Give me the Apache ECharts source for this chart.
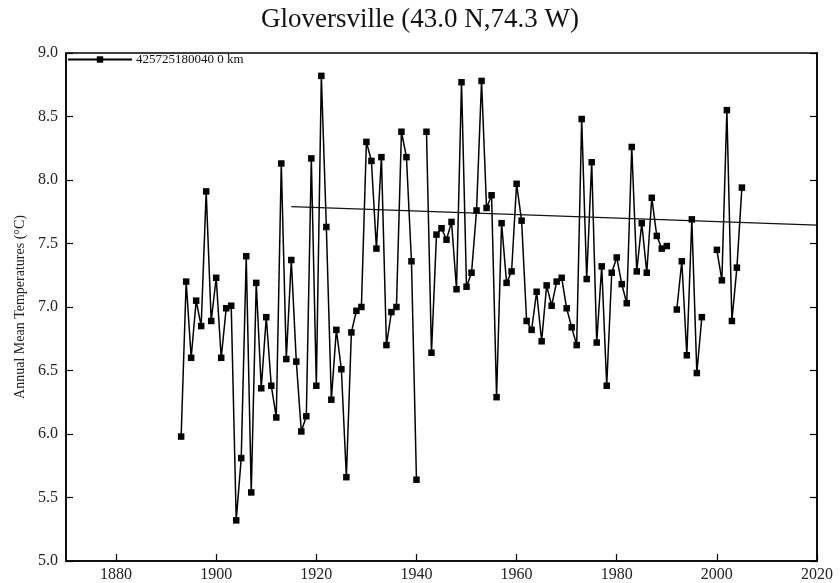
<!DOCTYPE html>
<html>
<head>
<meta charset="utf-8">
<script src="https://cdn.jsdelivr.net/npm/echarts@6/dist/echarts.min.js"></script>
<style>
html,body{margin:0;padding:0;background:#fff;}
#chart{width:840px;height:583px;}
</style>
</head>
<body>
<div id="chart"></div>
<script>
// ---- data ----
var chartTitle = 'Gloversville (43.0 N,74.3 W)';
var seriesName = '425725180040 0 km';
var yAxisName = 'Annual Mean Temperatures (\u00B0C)';
var firstYear = 1893;
var temps = [
  5.98, 7.20, 6.60, 7.05, 6.85, 7.91, 6.89,            // 1893-1899
  7.23, 6.60, 6.99, 7.01, 5.32, 5.81, 7.40, 5.54, 7.19, 6.36, // 1900-1909
  6.92, 6.38, 6.13, 8.13, 6.59, 7.37, 6.57, 6.02, 6.14, 8.17, // 1910-1919
  6.38, 8.82, 7.63, 6.27, 6.82, 6.51, 5.66, 6.80, 6.97, 7.00, // 1920-1929
  8.30, 8.15, 7.46, 8.18, 6.70, 6.96, 7.00, 8.38, 8.18, 7.36, // 1930-1939
  5.64, null, 8.38, 6.64, 7.57, 7.62, 7.53, 7.67, 7.14, 8.77, // 1940-1949
  7.16, 7.27, 7.76, 8.78, 7.78, 7.88, 6.29, 7.66, 7.19, 7.28, // 1950-1959
  7.97, 7.68, 6.89, 6.82, 7.12, 6.73, 7.17, 7.01, 7.20, 7.23, // 1960-1969
  6.99, 6.84, 6.70, 8.48, 7.22, 8.14, 6.72, 7.32, 6.38, 7.27, // 1970-1979
  7.39, 7.18, 7.03, 8.26, 7.28, 7.66, 7.27, 7.86, 7.56, 7.46, // 1980-1989
  7.48, null, 6.98, 7.36, 6.62, 7.69, 6.48, 6.92, null, null, // 1990-1999
  7.45, 7.21, 8.55, 6.89, 7.31, 7.94                          // 2000-2005
];
var trendYears = [1915, 2020];
var trendValues = [7.79, 7.645];
var xTickValues = [1880, 1900, 1920, 1940, 1960, 1980, 2000, 2020];
var xMin = 1870, xMax = 2020;
var yMin = 5.0, yMax = 9.0, yStep = 0.5;

// ---- build series ----
var stationData = temps.map(function (v, i) { return [firstYear + i, v]; });
var trendData = trendYears.map(function (y, i) { return [y, trendValues[i]]; });

var serif = 'Liberation Serif';
var chart = echarts.init(document.getElementById('chart'), null, {renderer: 'canvas'});
chart.setOption({
  backgroundColor: '#fff',
  animation: false,
  title: {
    text: chartTitle,
    left: 'center',
    top: 1,
    textStyle: {fontFamily: serif, fontSize: 27, fontWeight: 'normal', color: '#111'}
  },
  legend: {
    data: [seriesName],
    left: 62,
    top: 48,
    itemWidth: 64,
    itemHeight: 8,
    itemGap: 4,
    textStyle: {fontFamily: serif, fontSize: 13, color: '#111', padding: [0, 0, 0, -1]}
  },
  grid: {left: 66, right: 23, top: 53, bottom: 21, show: true, borderColor: '#000', borderWidth: 1.5, backgroundColor: 'transparent'},
  xAxis: [{
    type: 'value', min: xMin, max: xMax,
    axisLine: {show: true, onZero: false, lineStyle: {color: '#000', width: 1.5}},
    axisTick: {show: true, inside: true, length: 7, customValues: xTickValues, lineStyle: {color: '#000', width: 1.2}},
    axisLabel: {customValues: xTickValues, margin: 6, fontFamily: serif, fontSize: 16, color: '#222',
      formatter: function (v) { return String(Math.round(v)); }},
    splitLine: {show: false}
  }],
  yAxis: [{
    type: 'value', min: yMin, max: yMax, interval: yStep,
    name: yAxisName, nameLocation: 'middle', nameGap: 39, nameRotate: 90,
    nameTextStyle: {fontFamily: serif, fontSize: 14, color: '#222'},
    axisLine: {show: true, onZero: false, lineStyle: {color: '#000', width: 1.5}},
    axisTick: {show: true, inside: true, length: 7, lineStyle: {color: '#000', width: 1.2}},
    axisLabel: {margin: 8, fontFamily: serif, fontSize: 16, color: '#222', formatter: function (v) { return v.toFixed(1); }},
    splitLine: {show: false}
  }, {
    type: 'value', min: yMin, max: yMax, interval: yStep, position: 'right',
    axisLine: {show: true, onZero: false, lineStyle: {color: '#000', width: 1.5}},
    axisTick: {show: true, inside: true, length: 7, lineStyle: {color: '#000', width: 1.2}},
    axisLabel: {show: false},
    splitLine: {show: false}
  }],
  series: [{
    name: seriesName,
    type: 'line',
    data: stationData,
    connectNulls: false,
    symbol: 'rect',
    symbolSize: 6.5,
    showAllSymbol: true,
    itemStyle: {color: '#000'},
    lineStyle: {color: '#000', width: 1.5},
    z: 3
  }, {
    name: 'trend',
    type: 'line',
    data: trendData,
    symbol: 'none',
    lineStyle: {color: '#111', width: 1.2},
    z: 2
  }]
});
</script>
</body>
</html>
